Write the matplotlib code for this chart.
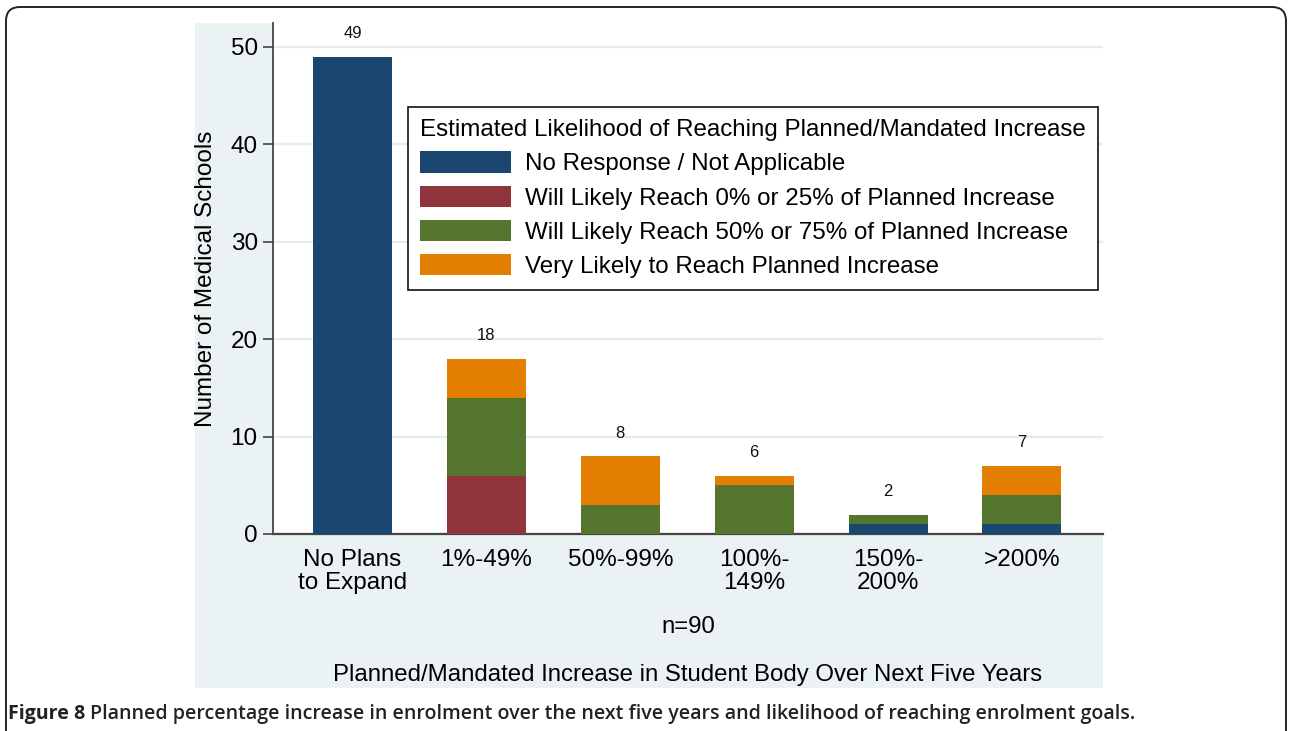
import numpy as np
import matplotlib
matplotlib.use("Agg")
import matplotlib.pyplot as plt
from matplotlib.patches import Rectangle, FancyBboxPatch, Patch

plt.rcParams['font.family'] = ['Liberation Sans', 'DejaVu Sans']

# data
categories = ['No Plans\nto Expand', '1%-49%', '50%-99%', '100%-\n149%', '150%-\n200%', '>200%']
no_response = [49, 0, 0, 0, 1, 1]
reach_0_25 = [0, 6, 0, 0, 0, 0]
reach_50_75 = [0, 8, 3, 5, 1, 3]
very_likely = [0, 4, 5, 1, 0, 3]
totals = [49, 18, 8, 6, 2, 7]

series = [no_response, reach_0_25, reach_50_75, very_likely]
series_labels = ['No Response / Not Applicable',
                 'Will Likely Reach 0% or 25% of Planned Increase',
                 'Will Likely Reach 50% or 75% of Planned Increase',
                 'Very Likely to Reach Planned Increase']
colors = ['#1a476f', '#90353b', '#55752f', '#e37e00']

W, H = 1289, 731
fig = plt.figure(figsize=(W / 100, H / 100), dpi=100)
fig.patch.set_facecolor('white')

# pixel-space canvas for the frame and the graph region
bg = fig.add_axes([0, 0, 1, 1], zorder=0)
bg.set_xlim(0, W)
bg.set_ylim(H, 0)
bg.axis('off')
bg.add_patch(FancyBboxPatch((6, 7), 1280, 760, boxstyle='round,pad=0,rounding_size=14',
                            fc='white', ec='#222222', lw=1.4))
bg.add_patch(Rectangle((195, 23), 1103 - 195, 688 - 23, fc='#eaf2f3', ec='none'))

# main plot area
ax = fig.add_axes([273 / W, 1 - 534 / H, (1103 - 273) / W, (534 - 23) / H], zorder=1)
ax.set_facecolor('white')
x = np.arange(len(categories))
bottom = np.zeros(len(categories))
for vals, col, lab in zip(series, colors, series_labels):
    ax.bar(x, vals, width=0.59, bottom=bottom, color=col, linewidth=0, label=lab, zorder=3)
    bottom += np.array(vals)

for i, t in enumerate(totals):
    ax.annotate(str(t), (i, t), xytext=(0, 16.5), textcoords='offset points',
                ha='center', va='center', fontsize=12, color='#111111')

ax.set_xlim(-0.594, 5.605)
ax.set_ylim(0, 52.46)
ax.set_yticks([0, 10, 20, 30, 40, 50])
ax.yaxis.grid(True, color='#e3edf0', linewidth=1.6, zorder=0)
ax.set_axisbelow(True)
ax.set_xticks(x)
ax.set_xticklabels(categories, fontsize=17.5, linespacing=1.05)
ax.tick_params(axis='x', length=0, pad=11)
ax.tick_params(axis='y', length=7, width=1.2, color='#444444', pad=4, labelsize=17.5)
for s in ['top', 'right']:
    ax.spines[s].set_visible(False)
ax.spines['left'].set_color('#444444')
ax.spines['bottom'].set_color('#444444')
ax.spines['left'].set_linewidth(1.3)
ax.spines['bottom'].set_linewidth(1.6)

ax.set_ylabel('Number of Medical Schools', fontsize=17.5)
ax.yaxis.set_label_coords(-0.067, 0.5)

fig.text(688 / W, 1 - 627 / H, 'n=90', ha='center', va='center', fontsize=17.3)
fig.text(688 / W, 1 - 675 / H, 'Planned/Mandated Increase in Student Body Over Next Five Years',
         ha='center', va='center', fontsize=17.3)

handles = [Patch(facecolor=c, edgecolor='none') for c in colors]
fs = 17.4
leg = ax.legend(handles, series_labels, title='Estimated Likelihood of Reaching Planned/Mandated Increase',
                loc='upper left', bbox_to_anchor=(408 / W, 1 - 107 / H), bbox_transform=fig.transFigure,
                borderaxespad=0, fontsize=fs, title_fontsize=fs, handlelength=3.78, handleheight=0.97,
                handletextpad=0.58, labelspacing=0.43, borderpad=0.5, fancybox=False, framealpha=1,
                alignment='left')
leg.get_frame().set_edgecolor('#111111')
leg.get_frame().set_linewidth(1.2)
leg.set_zorder(5)

cap = fig.text(8 / W, 1 - 714 / H, 'Figure 8', ha='left', va='center', fontsize=14.1,
               fontweight='bold', family=['Open Sans', 'DejaVu Sans'], color='#222222')
fig.canvas.draw()
bb = cap.get_window_extent()
fig.text((bb.x1 + 5) / W, 1 - 714 / H,
         'Planned percentage increase in enrolment over the next five years and likelihood of reaching enrolment goals.',
         ha='left', va='center', fontsize=14.1, fontweight='semibold', family=['Open Sans', 'DejaVu Sans'],
         color='#222222')

fig.savefig('out.png', dpi=100)
